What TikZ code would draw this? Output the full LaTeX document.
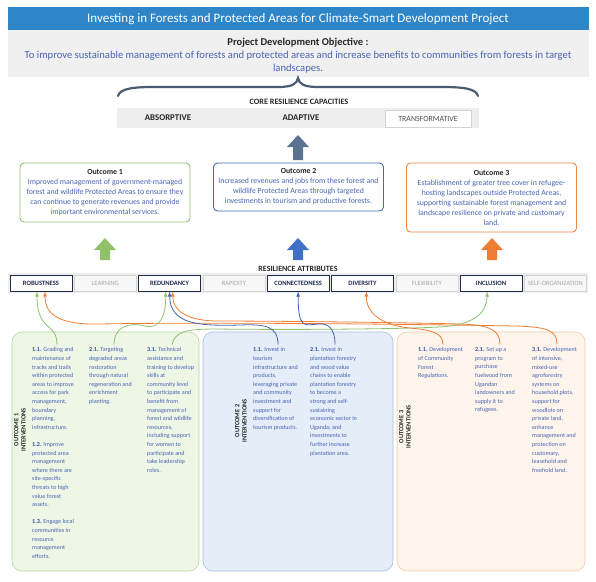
\documentclass[tikz,border=0pt]{standalone}
\usepackage{fontspec}
\setmainfont{Carlito}
\usepackage{tikz}
\usetikzlibrary{arrows}

\definecolor{titleblue}{HTML}{2E86C8}
\definecolor{panelgray}{HTML}{F0F0F0}
\definecolor{stripgray}{HTML}{EEEEEE}
\definecolor{bodyblue}{HTML}{4A64B3}
\definecolor{numblue}{HTML}{2F4C9E}
\definecolor{bracecol}{HTML}{4B5B72}
\definecolor{slate}{HTML}{5B7291}
\definecolor{ogreen}{HTML}{8EC36E}
\definecolor{oblue}{HTML}{3D6CB9}
\definecolor{oorange}{HTML}{EF8745}
\definecolor{agreen}{HTML}{8FC26B}
\definecolor{ablue}{HTML}{3F70C6}
\definecolor{aorange}{HTML}{EE7D31}
\definecolor{navy}{HTML}{1F2A4F}
\definecolor{offline}{HTML}{D4D4D4}
\definecolor{offfill}{HTML}{F7F7F7}
\definecolor{offtext}{HTML}{A8A8A8}
\definecolor{pgreenfill}{HTML}{EEF6E6}
\definecolor{pgreenline}{HTML}{B7D7A0}
\definecolor{pbluefill}{HTML}{E4EDF8}
\definecolor{pblueline}{HTML}{A5BDE0}
\definecolor{porangefill}{HTML}{FDF4EC}
\definecolor{porangeline}{HTML}{F3C9AA}
\definecolor{lgreen}{HTML}{8DC26F}
\definecolor{lblue}{HTML}{3E66B0}
\definecolor{lorange}{HTML}{EE7D31}
\definecolor{headtext}{HTML}{262626}

\newcommand{\inum}[1]{{\color{numblue}\bfseries #1}}

\begin{document}
\begin{tikzpicture}[x=1pt,y=-1pt,
    outbox/.style={rounded corners=4pt, line width=0.9pt, fill=white, minimum width=170pt,
      align=center, inner sep=0pt, text=bodyblue, font=\fontsize{7.8}{10}\selectfont},
    attr/.style={draw=navy, line width=1pt, fill=white, minimum width=62pt, minimum height=16pt,
      inner sep=0pt, text=navy, font=\fontsize{6.6}{8}\selectfont\bfseries},
    attroff/.style={attr, draw=offline, line width=0.6pt, fill=offfill, text=offtext,
      font=\fontsize{6.5}{8}\selectfont},
    intv/.style={anchor=north west, align=left, inner sep=0pt, text=bodyblue,
      font=\fontsize{6.1}{8.6}\selectfont},
    vlabel/.style={rotate=90, align=center, inner sep=0pt, text=headtext,
      font=\fontsize{6.4}{7.2}\selectfont\bfseries},
    capa/.style={text=headtext, font=\fontsize{8.8}{10}\selectfont\bfseries},
    link/.style={->, >=latex, line width=0.8pt}]

    \useasboundingbox (0,0) rectangle (596,581);

    % title and objective
    \fill[titleblue] (8,7) rectangle (589,30);
    \node (title) at (298,19) [text=white, font=\fontsize{13}{15}\selectfont]
      {Investing in Forests and Protected Areas for Climate-Smart Development Project};
    \fill[panelgray] (8,30) rectangle (589,77);
    \node (pdo) at (298,43) [text=headtext, font=\fontsize{10.5}{12}\selectfont\bfseries]
      {Project Development Objective :};
    \node (pdotext) at (298,62) [align=center, text=bodyblue, font=\fontsize{10.6}{13}\selectfont]
      {To improve sustainable management of forests and protected areas and increase benefits to communities from forests in target\\landscapes.};

    % brace
    \draw [bracecol, line width=2.2pt, line cap=round] (118,96) .. controls (120,88) and (135,87) .. (155,87)
      -- (278,87) .. controls (292,87) and (297,84) .. (298,78)
      .. controls (299,84) and (304,87) .. (318,87) -- (441,87)
      .. controls (461,87) and (476,88) .. (478,96);

    % core capacities
    \node (core) at (299,102) [text=headtext, font=\fontsize{8.2}{9}\selectfont\bfseries] {CORE RESILIENCE CAPACITIES};
    \fill[stripgray] (117,108) rectangle (479,128);
    \node (absorb) at (168,118) [capa] {ABSORPTIVE};
    \node (adapt) at (301,118) [capa] {ADAPTIVE};
    \node (transf) at (428,118.5) [draw=offline, line width=0.8pt, fill=white, minimum width=86pt,
      minimum height=17pt, inner sep=0pt, text=black!70, font=\fontsize{7.9}{9}\selectfont] {TRANSFORMATIVE};

    % block arrows
    \foreach \cx/\ty/\by/\col in {298/135/160/slate, 105/238/260/agreen, 298/238/260/ablue, 492/238/260/aorange}
      \fill[\col] (\cx-5,\by) -- (\cx-5,\ty+12) -- (\cx-11,\ty+12) -- (\cx,\ty)
        -- (\cx+11,\ty+12) -- (\cx+5,\ty+12) -- (\cx+5,\by) -- cycle;

    % outcomes
    \node (outone) at (105,192.5) [outbox, draw=ogreen, minimum height=59pt]
      {{\color{headtext}\bfseries Outcome 1}\\Improved management of government-managed\\forest and wildlife Protected Areas to ensure they\\can continue to generate revenues and provide\\important environmental services.};
    \node (outtwo) at (298.5,187) [outbox, draw=oblue, minimum height=48pt]
      {{\color{headtext}\bfseries Outcome 2}\\Increased revenues and jobs from these forest and\\wildlife Protected Areas through targeted\\investments in tourism and productive forests.};
    \node (outthree) at (491.5,197.5) [outbox, draw=oorange, minimum height=69pt]
      {{\color{headtext}\bfseries Outcome 3}\\Establishment of greater tree cover in refugee-\\hosting landscapes outside Protected Areas,\\supporting sustainable forest management and\\landscape resilience on private and customary\\land.};

    % resilience attributes
    \node (resil) at (298,269) [text=headtext, font=\fontsize{8}{9}\selectfont\bfseries] {RESILIENCE ATTRIBUTES};
    \fill[stripgray] (8,273) rectangle (588,293);
    \foreach \nm/\lab/\i in {robust/ROBUSTNESS/0, redund/REDUNDANCY/2, connect/CONNECTEDNESS/4, divers/DIVERSITY/5, incl/INCLUSION/7}
      \node (\nm) at ({41+64.3*\i},283) [attr] {\lab};
    \foreach \nm/\lab/\i in {learn/LEARNING/1, rapid/RAPIDITY/3, flex/FLEXIBILITY/6, selforg/SELF-ORGANIZATION/8}
      \node (\nm) at ({41+64.3*\i},283) [attroff] {\lab};

    % intervention panels
    \draw [fill=pgreenfill, draw=pgreenline, line width=0.6pt, rounded corners=10pt] (12,332) rectangle (199,571);
    \draw [fill=pbluefill, draw=pblueline, line width=0.6pt, rounded corners=10pt] (203,332) rectangle (393,571);
    \draw [fill=porangefill, draw=porangeline, line width=0.6pt, rounded corners=10pt] (397,332) rectangle (585,571);

    \node (lblone) at (20,430) [vlabel] {OUTCOME 1\\INTERVENTIONS};
    \node (lbltwo) at (241,421) [vlabel] {OUTCOME 2\\INTERVENTIONS};
    \node (lblthree) at (405,427) [vlabel] {OUTCOME 3\\INTERVENTIONS};

    \node (gOne) at (32,347.5) [intv] {\inum{1.1.} Grading and\\maintenance of\\tracks and trails\\within protected\\areas to improve\\access for park\\management,\\boundary\\planning,\\infrastructure.\\[8.6pt]\inum{1.2.} Improve\\protected area\\management\\where there are\\site-specific\\threats to high\\value forest\\assets.\\[8.6pt]\inum{1.3.} Engage local\\communities in\\resource\\management\\efforts.};
    \node (gTwo) at (89,347.5) [intv] {\inum{2.1.} Targeting\\degraded areas\\restoration\\through natural\\regeneration and\\enrichment\\planting.};
    \node (gThree) at (147,347.5) [intv] {\inum{3.1.} Technical\\assistance and\\training to develop\\skills at\\community level\\to participate and\\benefit from\\management of\\forest and wildlife\\resources,\\including support\\for women to\\participate and\\take leadership\\roles.};
    \node (bOne) at (253,347.5) [intv] {\inum{1.1.} Invest in\\tourism\\infrastructure and\\products,\\leveraging private\\and community\\investment and\\support for\\diversification of\\tourism products.};
    \node (bTwo) at (310,347.5) [intv] {\inum{2.1.} Invest in\\plantation forestry\\and wood value\\chains to enable\\plantation forestry\\to become a\\strong and self-\\sustaining\\economic sector in\\Uganda; and\\investments to\\further increase\\plantation area.};
    \node (oOne) at (418,347.5) [intv] {\inum{1.1.} Development\\of Community\\Forest\\Regulations.};
    \node (oTwo) at (475,347.5) [intv] {\inum{2.1.} Set up a\\program to\\purchase\\fuelwood from\\Ugandan\\landowners and\\supply it to\\refugees.};
    \node (oThree) at (532,347.5) [intv] {\inum{3.1.} Development\\of intensive,\\mixed-use\\agroforestry\\systems on\\household plots,\\support for\\woodlots on\\private land,\\enhance\\management and\\protection on\\customary,\\leasehold and\\freehold land.};

    % links to attributes
    \draw [link, lorange] ([xshift=25pt,yshift=3pt]oThree.north west) .. controls (557,330) and (547,327) .. (515,326)
      .. controls (400,324) and (200,322) .. (100,324) .. controls (60,325) and (45,315) .. ([xshift=4pt]robust.south);
    \draw [link, lorange] ([xshift=25pt,yshift=3pt]oTwo.north west) .. controls (500,330) and (490,325) .. (460,324)
      .. controls (380,322) and (260,321) .. (215,321) .. controls (185,320) and (173,310) .. ([xshift=3pt]redund.south);
    \draw [link, lgreen] ([xshift=25pt,yshift=3pt]gThree.north west) .. controls (175,332) and (185,329) .. (215,329)
      .. controls (300,330) and (400,329) .. (440,327) .. controls (475,325) and (487,312) .. ([xshift=-4pt]incl.south);
    \draw [link, lgreen] ([xshift=25pt,yshift=3pt]gOne.north west) .. controls (57,322) and (37,332) .. ([xshift=-4pt]robust.south);
    \draw [link, lgreen] ([xshift=25pt,yshift=3pt]gTwo.north west) .. controls (114,326) and (130,322) .. (145,326)
      .. controls (160,330) and (166,315) .. ([xshift=-4pt]redund.south);
    \draw [link, lblue] ([xshift=25pt,yshift=3pt]bOne.north west) .. controls (278,326) and (265,324) .. (240,325)
      .. controls (200,326) and (170,325) .. (redund.south);
    \draw [link, lblue] ([xshift=25pt,yshift=3pt]bTwo.north west) .. controls (335,328) and (328,323) .. (318,324)
      .. controls (305,325) and (298,330) .. (connect.south);
    \draw [link, lorange] ([xshift=25pt,yshift=3pt]oOne.north west) .. controls (443,332) and (430,330) .. (410,328)
      .. controls (380,325) and (366,312) .. ([xshift=4pt]divers.south);

\end{tikzpicture}
\end{document}
